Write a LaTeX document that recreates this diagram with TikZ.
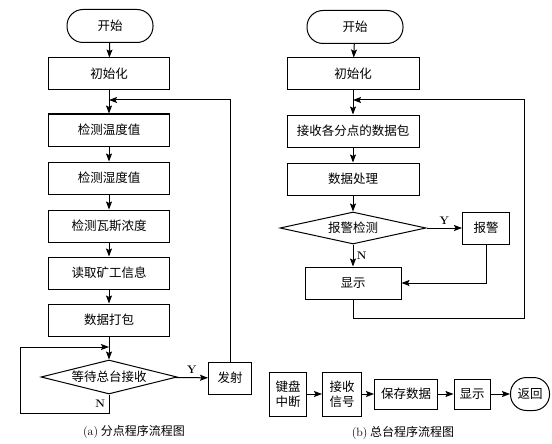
\documentclass[tikz,border=0pt]{standalone}
\usepackage{fontspec}
\newfontfamily\cjk{Noto Sans CJK SC}
\usetikzlibrary{shapes.geometric,arrows.meta}

\begin{document}
\begin{tikzpicture}[x=1pt, y=-1pt, line width=1pt,
  font=\cjk\fontsize{12.5pt}{15pt}\selectfont,
  box/.style={draw, minimum width=#1, minimum height=32pt, inner sep=1pt},
  box/.default=121pt,
  term/.style={draw, rounded corners=16pt, minimum width=#1, minimum height=33pt},
  decide/.style={draw, diamond, aspect=4.2, inner sep=0pt,
    minimum width=#1, minimum height=34pt},
  arr/.style={-{Stealth[length=8pt, width=6pt, inset=1.5pt]}},
  yn/.style={font=\rmfamily\bfseries\fontsize{11pt}{13pt}\selectfont},
  captext/.style={font=\cjk\fontsize{12pt}{14pt}\selectfont}]
  \useasboundingbox (0,0) rectangle (552,444);

  % (a) branch program
  \node[term=86pt] (startA) at (110,26) {开始};
  \node[box] (initA) at (109,74) {初始化};
  \node[box] (tempA) at (109,130) {检测温度值};
  \node[box] (humA) at (109,178) {检测湿度值};
  \node[box] (gasA) at (109,226) {检测瓦斯浓度};
  \node[box] (readA) at (109,273) {读取矿工信息};
  \node[box] (packA) at (109,320) {数据打包};
  \node[decide=136pt] (waitA) at (109,377) {等待总台接收};
  \node[box=43pt, inner sep=0pt] (sendA) at (230,378) {发射};
  \coordinate (mA) at (109,100);
  \coordinate (nA) at (20,413);
  \coordinate (lA) at (109,347);

  \draw[arr] (startA) -- (initA);
  \draw[arr] (initA) -- (tempA);
  \draw[arr] (tempA) -- (humA);
  \draw[arr] (humA) -- (gasA);
  \draw[arr] (gasA) -- (readA);
  \draw[arr] (readA) -- (packA);
  \draw[arr] (packA) -- (waitA);
  \draw[arr] (waitA) -- (sendA) node[midway, above, yn] {Y};
  \draw[arr] (sendA) |- (mA);
  \draw[arr] (waitA.south) |- (nA) node[pos=0.25, left, yn] {N} |- (lA);
  \node[captext] (capA) at (134,432) {{\rmfamily (a)}\ 分点程序流程图};

  % (b) master program
  \node[term=96pt] (startB) at (355,27) {开始};
  \node[box=132pt] (initB) at (353,74) {初始化};
  \node[box=132pt] (recvB) at (353,131) {接收各分点的数据包};
  \node[box=132pt] (procB) at (353,179) {数据处理};
  \node[decide=146pt, minimum height=32pt] (checkB) at (353,228) {报警检测};
  \node[box=47pt, inner sep=0pt] (alarmB) at (486,228) {报警};
  \node[box=96pt] (showB) at (353,283) {显示};
  \coordinate (mB) at (353,100);
  \coordinate (cB) at (524,318);

  \draw[arr] (startB) -- (initB);
  \draw[arr] (initB) -- (recvB);
  \draw[arr] (recvB) -- (procB);
  \draw[arr] (procB) -- (checkB);
  \draw[arr] (checkB) -- (alarmB) node[midway, above, yn] {Y};
  \draw[arr] (checkB) -- (showB) node[midway, right, yn] {N};
  \draw[arr] (alarmB.south) |- (showB.east);
  \draw[arr] (showB.south) |- (cB) |- (mB);

  % keyboard interrupt
  \node[box=37pt, minimum height=44pt, inner sep=0pt, align=center] (keyB) at (288,394) {键盘\\中断};
  \node[box=39pt, minimum height=44pt, inner sep=0pt, align=center] (sigB) at (342,394) {接收\\信号};
  \node[box=63pt, minimum height=30pt, inner sep=0pt] (saveB) at (406,394) {保存数据};
  \node[box=36pt, minimum height=30pt, inner sep=0pt] (dispB) at (472,394) {显示};
  \node[term=39pt, minimum height=33pt, inner sep=0pt] (retB) at (530,394) {返回};
  \draw[arr] (keyB) -- (sigB);
  \draw[arr] (sigB) -- (saveB);
  \draw[arr] (saveB) -- (dispB);
  \draw[arr] (dispB) -- (retB);
  \node[captext] (capB) at (403,433) {{\rmfamily (b)}\ 总台程序流程图};
\end{tikzpicture}
\end{document}
